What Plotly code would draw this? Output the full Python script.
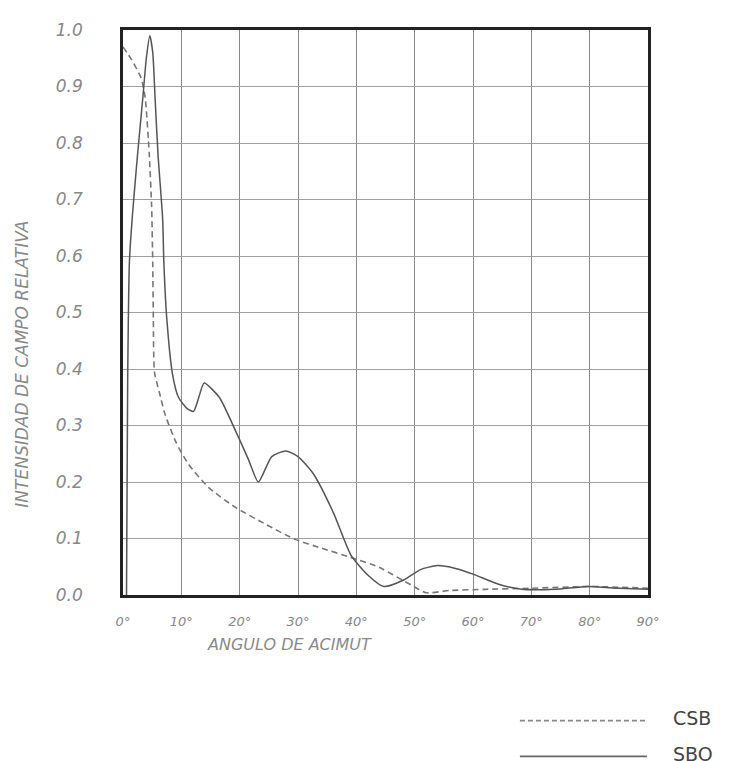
import plotly.graph_objects as go

# --- data (azimuth angle in degrees, relative field intensity) ---
sbo_deg = [0.6, 0.8, 1.1, 1.6, 2.5, 3.4, 4.0, 4.6, 5.1, 5.5, 6.0, 6.8, 7.0, 7.5, 8.5, 9.5,
           11.0, 12.1, 13.0, 13.9, 16.5, 19.1, 21.5, 23.2, 25.5, 27.9, 30.0, 32.6, 36.1,
           39.1, 42.0, 44.7, 48.2, 51.0, 53.9, 57.0, 60.0, 64.4, 68.4, 74.0, 79.6, 85.0, 90.0]
sbo_val = [0.0, 0.38, 0.59, 0.67, 0.78, 0.88, 0.95, 0.99, 0.96, 0.88, 0.78, 0.665, 0.59, 0.49,
           0.39, 0.35, 0.33, 0.325, 0.35, 0.375, 0.35, 0.295, 0.24, 0.20, 0.245, 0.255, 0.245,
           0.215, 0.145, 0.07, 0.035, 0.015, 0.027, 0.045, 0.052, 0.047, 0.037, 0.019, 0.01,
           0.01, 0.015, 0.012, 0.01]

csb_deg = [0, 1.5, 3.1, 3.8, 4.5, 4.9, 5.1, 5.2, 5.4, 6.2, 7.2, 9.1, 11.2, 14.7, 19.3, 24.5,
           29.6, 34.0, 38.9, 43.9, 49.5, 52.0, 56.0, 62.0, 70.0, 80.0, 90.0]
csb_val = [0.97, 0.947, 0.915, 0.88, 0.78, 0.69, 0.587, 0.49, 0.394, 0.36, 0.32, 0.27, 0.232,
           0.19, 0.155, 0.125, 0.098, 0.083, 0.067, 0.049, 0.017, 0.004, 0.008, 0.01, 0.012,
           0.015, 0.012]

x_ticks = [0, 10, 20, 30, 40, 50, 60, 70, 80, 90]
x_labels = ["0°", "10°", "20°", "30°", "40°", "50°", "60°", "70°", "80°", "90°"]
y_ticks = [0.0, 0.1, 0.2, 0.3, 0.4, 0.5, 0.6, 0.7, 0.8, 0.9, 1.0]
y_labels = ["0.0", "0.1", "0.2", "0.3", "0.4", "0.5", "0.6", "0.7", "0.8", "0.9", "1.0"]

series_names = ["CSB", "SBO"]
x_title = "ANGULO DE ACIMUT"
y_title = "INTENSIDAD DE CAMPO RELATIVA"

fig = go.Figure()
fig.add_trace(go.Scatter(x=csb_deg, y=csb_val, mode="lines", name=series_names[0],
                         line=dict(color="#777777", width=1.6, dash="6px,4px",
                                   shape="spline", smoothing=0.6)))
fig.add_trace(go.Scatter(x=sbo_deg, y=sbo_val, mode="lines", name=series_names[1],
                         line=dict(color="#555555", width=1.5,
                                   shape="spline", smoothing=0.6)))

tick_font = dict(family="DejaVu Sans", size=14, color="#888888", style="italic")

# the page body adds an 8px offset, so the figure is 8px smaller and margins compensate
fig.update_layout(
    width=721, height=753,
    margin=dict(l=115, r=81, t=16, b=166),
    paper_bgcolor="white", plot_bgcolor="white",
    showlegend=False,
    xaxis=dict(range=[0, 90], tickvals=x_ticks, ticktext=x_labels, showgrid=True,
               gridcolor="#8a8a8a", gridwidth=1, zeroline=False, showline=True,
               linecolor="#222222", linewidth=2.5, mirror=True, ticks="",
               ticklabelstandoff=13, tickfont=dict(tick_font, size=13)),
    yaxis=dict(range=[0, 1], tickvals=y_ticks, ticktext=y_labels, showgrid=True,
               gridcolor="#a0a0a0", gridwidth=1, zeroline=False, showline=True,
               linecolor="#222222", linewidth=2.5, mirror=True, ticks="",
               ticklabelstandoff=34, tickfont=dict(tick_font, size=17)),
)

# axis titles
fig.add_annotation(text=y_title, xref="paper", yref="paper", x=-0.192, y=0.408,
                   xanchor="center", yanchor="middle",
                   textangle=-90, showarrow=False,
                   font=dict(family="DejaVu Sans", size=17, color="#8a8a8a", style="italic"))
fig.add_annotation(text=x_title, xref="paper", yref="paper", x=0.318, y=-0.088,
                   xanchor="center", yanchor="middle", showarrow=False,
                   font=dict(family="DejaVu Sans", size=16, color="#8a8a8a", style="italic"))

# legend (long line samples with labels, bottom right)
leg_y = [-0.2224, -0.2855]
leg_styles = [dict(color="#888888", width=1.6, dash="5px,3px"),
              dict(color="#666666", width=1.8)]
for name, yy, ls in zip(series_names, leg_y, leg_styles):
    fig.add_shape(type="line", xref="paper", yref="paper", x0=0.756, x1=0.998,
                  y0=yy, y1=yy, line=ls)
    fig.add_annotation(text=name, xref="paper", yref="paper", x=1.044, y=yy + 0.004,
                       xanchor="left", yanchor="middle", showarrow=False,
                       font=dict(family="DejaVu Sans", size=19, color="#444444"))

fig.write_html("out.html")
